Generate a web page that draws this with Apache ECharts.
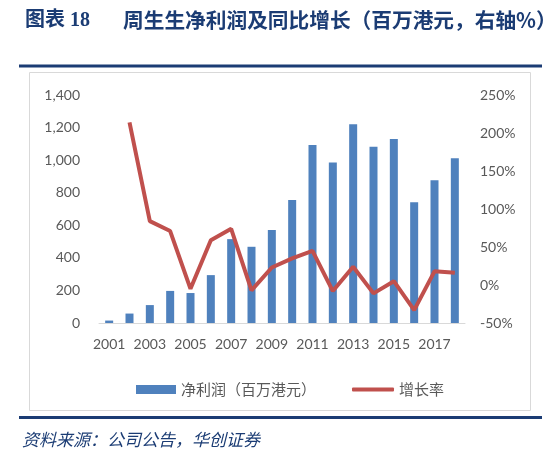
<!DOCTYPE html>
<html lang="zh">
<head>
    <meta charset="utf-8">
    <title>周生生净利润及同比增长</title>
    <script src="https://cdn.jsdelivr.net/npm/echarts@6/dist/echarts.min.js"></script>
    <style>
        html, body {margin: 0; padding: 0; background: #fff;}
        #chart {width: 554px; height: 449px;}
    </style>
</head>
<body>
<div id="chart"></div>
<script>
    // 年份
    var years = ['2001', '2002', '2003', '2004', '2005', '2006', '2007', '2008', '2009',
        '2010', '2011', '2012', '2013', '2014', '2015', '2016', '2017', '2018'];
    // 净利润（百万港元）
    var profit = [15, 58, 110, 197, 184, 294, 515, 468, 571,
        755, 1093, 985, 1220, 1082, 1130, 741, 876, 1011];
    // 增长率（%），2001年无数据
    var growth = [null, 214, 84, 71, -5, 59, 74, -7, 23,
        35, 45, -8, 24, -11, 5, -33, 18, 16];
    // 坐标轴刻度
    var leftTicks = {min: 0, max: 1400, step: 200};
    var rightTicks = {min: -50, max: 250, step: 50};

    var navy = '#1b3c74';
    var gray = '#595959';
    var legendText = {fontFamily: 'Noto Sans CJK SC', fontSize: 15, color: gray};
    var chart = echarts.init(document.getElementById('chart'));

    var option = {
        animation: false,
        title: [
            {
                text: '图表 18',
                left: 20, top: 6,
                textStyle: {fontFamily: 'Liberation Serif, Noto Sans CJK SC', fontWeight: 'bold', fontSize: 20, color: navy}
            },
            {
                text: '周生生净利润及同比增长（百万港元，右轴%）',
                left: 118, top: 5,
                textStyle: {fontFamily: 'Noto Sans CJK SC', fontWeight: 'bold', fontSize: 20.7, color: navy}
            }
        ],
        graphic: [
            {type: 'rect', shape: {x: 19, y: 64.5, width: 523, height: 3}, style: {fill: navy}, silent: true},
            {type: 'rect', shape: {x: 29.5, y: 72.5, width: 501, height: 338}, style: {fill: 'none', stroke: '#d9d9d9', lineWidth: 1}, silent: true},
            {type: 'rect', shape: {x: 19, y: 416, width: 523, height: 3}, style: {fill: navy}, silent: true},
            {
                type: 'text', left: 22, top: 431,
                style: {text: '资料来源：公司公告，华创证券', fontFamily: 'Noto Sans CJK SC', fontStyle: 'italic', fontSize: 17, fill: navy}
            }
        ],
        // 两个图例分开，方便柱和线的图标高度不同
        legend: [
            {
                left: 131, top: 377,
                itemWidth: 40, itemHeight: 9, itemGap: 5,
                textStyle: legendText,
                data: [{name: '净利润（百万港元）', icon: 'rect'}]
            },
            {
                left: 347, top: 377,
                itemWidth: 42, itemHeight: 4,
                textStyle: legendText,
                data: [{name: '增长率', icon: 'roundRect'}]
            }
        ],
        grid: {left: 99, right: 89, top: 95, bottom: 126, containLabel: false},
        xAxis: {
            type: 'category',
            data: years,
            axisTick: {show: false},
            axisLine: {lineStyle: {color: '#d9d9d9', width: 1}},
            axisLabel: {interval: 1, margin: 14, fontFamily: 'Lato', fontSize: 14, color: gray}
        },
        yAxis: [
            {
                type: 'value',
                min: leftTicks.min, max: leftTicks.max, interval: leftTicks.step,
                splitLine: {show: false},
                axisLine: {show: false},
                axisTick: {show: false},
                axisLabel: {
                    margin: 19, fontFamily: 'Lato', fontSize: 14, color: gray,
                    formatter: function (v) { return v.toLocaleString('en-US'); }
                }
            },
            {
                type: 'value',
                min: rightTicks.min, max: rightTicks.max, interval: rightTicks.step,
                splitLine: {show: false},
                axisLine: {show: false},
                axisTick: {show: false},
                axisLabel: {margin: 15, fontFamily: 'Lato', fontSize: 14, color: gray, formatter: '{value}%'}
            }
        ],
        series: [
            {
                name: '净利润（百万港元）',
                type: 'bar',
                data: profit,
                barWidth: 8,
                itemStyle: {color: '#4f81bd'}
            },
            {
                name: '增长率',
                type: 'line',
                yAxisIndex: 1,
                data: growth,
                symbol: 'none',
                lineStyle: {color: '#c0504d', width: 4},
                itemStyle: {color: '#c0504d'}
            }
        ]
    };
    chart.setOption(option);
</script>
</body>
</html>
